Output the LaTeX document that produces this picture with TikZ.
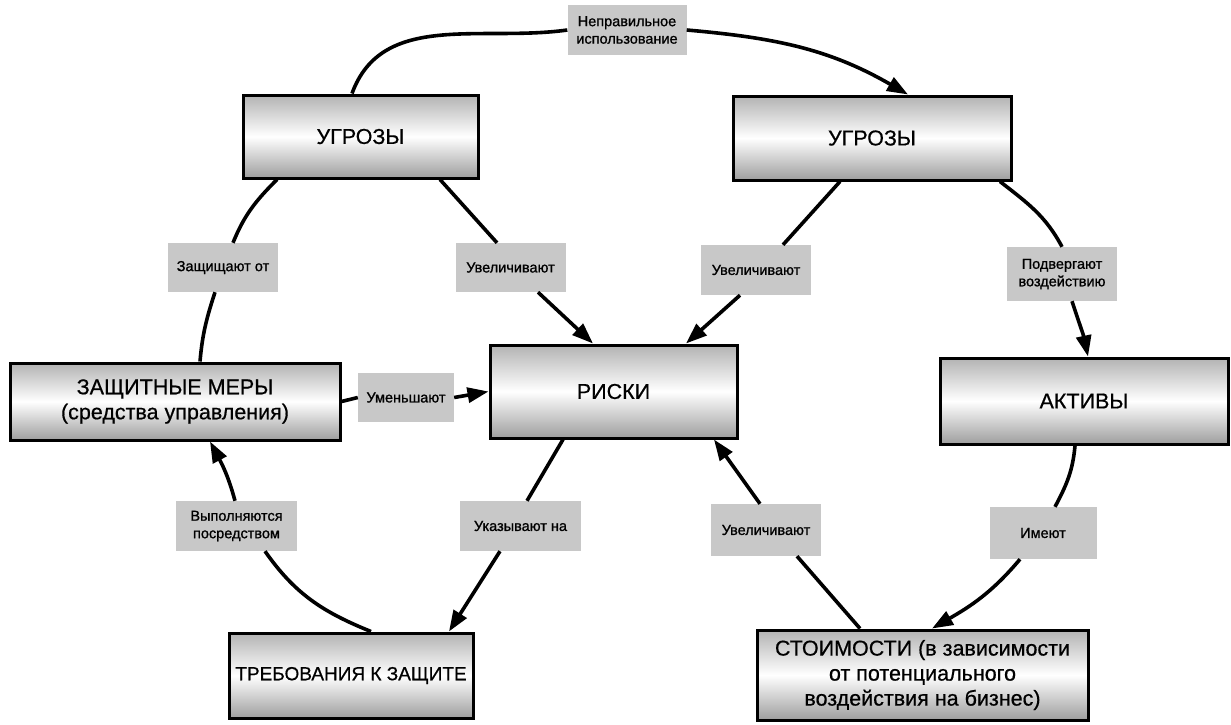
\documentclass[tikz,border=0pt]{standalone}
\usepackage{fontspec}
\setmainfont{Liberation Sans}
\newfontfamily\boxfont[FakeBold=0.6]{Liberation Sans}
\newfontfamily\lblfont[FakeBold=1.0]{Liberation Sans}
\usetikzlibrary{arrows.meta}
\definecolor{lblgray}{HTML}{C8C8C8}
\begin{document}
\begin{tikzpicture}[x=1pt,y=1pt,
  box/.style={draw=black, line width=3pt, top color=black!30, bottom color=black!38, middle color=white,
    inner sep=0pt, align=center, font=\boxfont\fontsize{21.5}{25}\selectfont},
  lbl/.style={fill=lblgray, inner sep=0pt, align=center, font=\lblfont\fontsize{14.5}{17.5}\selectfont},
  con/.style={line width=3.6pt},
  arr/.style={con, -{Triangle[length=21pt,width=15pt]}}]
\useasboundingbox (0,0) rectangle (1231,-724);
% main boxes
\node[box, minimum width=235pt, minimum height=83pt] (t1) at (360.5,-136.5) {УГРОЗЫ};
\node[box, minimum width=278pt, minimum height=84pt] (t2) at (872,-138) {УГРОЗЫ};
\node[box, minimum width=330pt, minimum height=77pt] (sm) at (175,-401.5) {ЗАЩИТНЫЕ МЕРЫ\\(средства управления)};
\node[box, minimum width=247pt, minimum height=93pt] (rk) at (613.5,-391.5) {РИСКИ};
\node[box, minimum width=288pt, minimum height=86pt] (ak) at (1084,-401) {АКТИВЫ};
\node[box, minimum width=244pt, minimum height=85pt, font=\boxfont\fontsize{19}{23}\selectfont] (rq) at (351,-675.5) {ТРЕБОВАНИЯ К ЗАЩИТЕ};
\node[box, minimum width=331pt, minimum height=90pt] (vl) at (922.5,-675) {СТОИМОСТИ (в зависимости\\от потенциального\\воздействия на бизнес)};
% labels
\node[lbl, minimum width=119pt, minimum height=50pt] (lm) at (627,-30) {Неправильное\\использование};
\node[lbl, minimum width=110pt, minimum height=49pt] (l1) at (223,-267.5) {Защищают от};
\node[lbl, minimum width=110pt, minimum height=49pt] (l2) at (510.5,-267.5) {Увеличивают};
\node[lbl, minimum width=110pt, minimum height=50pt] (l3) at (756,-270) {Увеличивают};
\node[lbl, minimum width=110pt, minimum height=54pt] (l4) at (1062,-274) {Подвергают\\воздействию};
\node[lbl, minimum width=96pt, minimum height=49pt] (l5) at (406,-397.5) {Уменьшают};
\node[lbl, minimum width=121pt, minimum height=50pt] (l6) at (236.5,-526) {Выполняются\\посредством};
\node[lbl, minimum width=121pt, minimum height=50pt] (l7) at (520.5,-526) {Указывают на};
\node[lbl, minimum width=110pt, minimum height=52pt] (l8) at (766,-530) {Увеличивают};
\node[lbl, minimum width=107pt, minimum height=52pt] (l9) at (1043,-533) {Имеют};
% connectors
\draw[con] ([xshift=-8.5pt]t1.north) to[out=70,in=188] (lm.west);
\draw[arr] (lm.east) to[out=-5,in=150] ([xshift=36pt]t2.north);
\draw[con] ([xshift=-83.5pt]t1.south) to[out=-135,in=68] ([xshift=10pt]l1.north);
\draw[con] ([xshift=-8pt]l1.south) to[out=-108,in=85] ([xshift=25pt]sm.north);
\draw[con] ([xshift=79.5pt]t1.south) -- ([xshift=-13.5pt]l2.north);
\draw[arr] ([xshift=27.5pt]l2.south) -- ([xshift=-20.5pt]rk.north);
\draw[con] ([xshift=-32pt]t2.south) -- ([xshift=27pt]l3.north);
\draw[arr] ([xshift=-16pt]l3.south) -- ([xshift=72.5pt]rk.north);
\draw[con] ([xshift=128pt]t2.south) to[out=-38,in=118] (l4.north);
\draw[arr] ([xshift=10pt]l4.south) to[out=-72,in=102] ([xshift=4pt]ak.north);
\draw[con] (sm.east) -- (l5.west);
\draw[arr] (l5.east) -- (rk.west);
\draw[con] ([xshift=20pt]rq.north) to[out=158,in=-55] ([xshift=28.5pt]l6.south);
\draw[arr] ([xshift=-1.5pt]l6.north) to[out=105,in=-62] ([xshift=35pt]sm.south);
\draw[con] ([xshift=-50.5pt]rk.south) -- ([xshift=6.5pt]l7.north);
\draw[arr] ([xshift=-20.5pt]l7.south) -- ([xshift=98pt]rq.north);
\draw[con] ([xshift=-62.5pt]vl.north) -- ([xshift=31pt]l8.south);
\draw[arr] ([xshift=-6pt]l8.north) -- ([xshift=100.5pt]rk.south);
\draw[con] ([xshift=-9pt]ak.south) to[out=-95,in=62] ([xshift=12pt]l9.north);
\draw[arr] ([xshift=-23pt]l9.south) to[out=-130,in=30] ([xshift=9.5pt]vl.north);
\end{tikzpicture}
\end{document}
